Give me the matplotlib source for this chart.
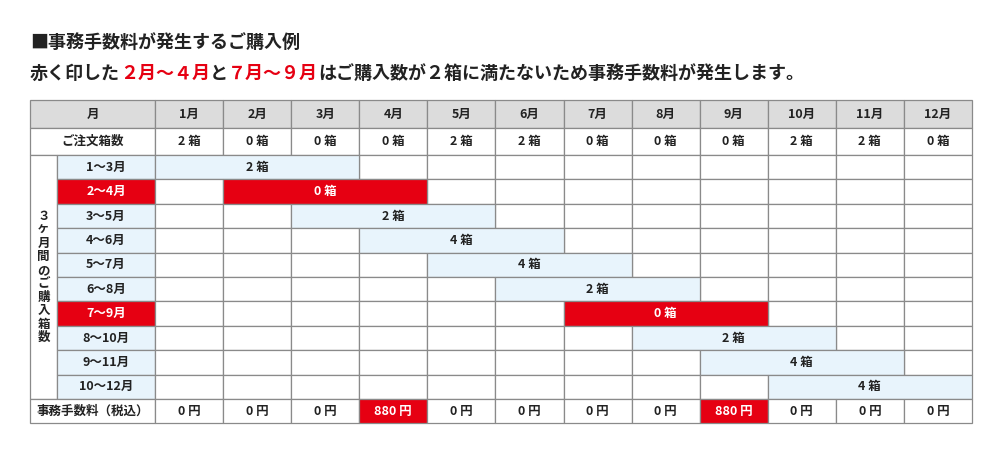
import matplotlib
matplotlib.use('Agg')
import matplotlib.pyplot as plt
from matplotlib.patches import Rectangle

plt.rcParams['font.family'] = 'Noto Sans CJK JP'

# data
months = ["1月", "2月", "3月", "4月", "5月", "6月", "7月", "8月", "9月", "10月", "11月", "12月"]
orders = [2, 0, 0, 0, 2, 2, 0, 0, 0, 2, 2, 0]
range_labels = ["1〜3月", "2〜4月", "3〜5月", "4〜6月", "5〜7月", "6〜8月",
                "7〜9月", "8〜10月", "9〜11月", "10〜12月"]
range_sums = [2, 0, 2, 4, 4, 2, 0, 2, 4, 4]
fees = [0, 0, 0, 880, 0, 0, 0, 0, 880, 0, 0, 0]

GRAY = '#dcdcdc'
BLUE = '#e8f4fc'
RED = '#e60012'
EDGE = '#8a8a8a'

fig = plt.figure(figsize=(10, 4.51), dpi=100)
ax = fig.add_axes([0, 0, 1, 1])
ax.set_xlim(0, 1000)
ax.set_ylim(451, 0)
ax.axis('off')

x0, xsub, xm = 30, 57, 155
colw = (972 - xm) / 12
xs = [xm + i * colw for i in range(13)]
row_h = (399 - 155) / 10


def cell(x, y, w, h, fc, text='', tc='#222', fs=9):
    ax.add_patch(Rectangle((x, y), w, h, facecolor=fc, edgecolor=EDGE, lw=0.9))
    if text:
        ax.text(x + w / 2, y + h / 2, text, ha='center', va='center',
                fontsize=fs, color=tc, fontweight='bold')


# header
cell(x0, 100, xm - x0, 28, GRAY, "月")
for i, m in enumerate(months):
    cell(xs[i], 100, colw, 28, GRAY, m)
# orders
cell(x0, 128, xm - x0, 27, 'white', "ご注文箱数")
for i, n in enumerate(orders):
    cell(xs[i], 128, colw, 27, 'white', f"{n} 箱")

# 3-month rows
cell(x0, 155, xsub - x0, row_h * 10, 'white')
ax.text((x0 + xsub) / 2, 155 + row_h * 5, "\n".join("３ヶ月間のご購入箱数"),
        ha='center', va='center', fontsize=9, fontweight='bold', color='#222',
        linespacing=1.05)
for r, (lab, s) in enumerate(zip(range_labels, range_sums)):
    y = 155 + r * row_h
    hot = s == 0
    cell(xsub, y, xm - xsub, row_h, RED if hot else BLUE, lab,
         tc='white' if hot else '#222')
    for i in range(12):
        if not (r <= i < r + 3):
            cell(xs[i], y, colw, row_h, 'white')
    w = colw * min(3, 12 - r)
    cell(xs[r], y, w, row_h, RED if hot else BLUE, f"{s} 箱",
         tc='white' if hot else '#222')

# fee row
cell(x0, 399, xm - x0, 24, 'white', "事務手数料（税込）")
for i, f in enumerate(fees):
    hot = f > 0
    cell(xs[i], 399, colw, 24, RED if hot else 'white', f"{f} 円",
         tc='white' if hot else '#222')

# titles
ax.text(30, 42, "■事務手数料が発生するご購入例", fontsize=13, fontweight='bold',
        va='center', color='#222')
parts = [("赤く印した", '#222'), ("２月〜４月", RED), ("と", '#222'),
         ("７月〜９月", RED), ("はご購入数が２箱に満たないため事務手数料が発生します。", '#222')]
fig.canvas.draw()
xpos = 30
for txt, c in parts:
    t = ax.text(xpos, 73, txt, fontsize=13, fontweight='bold', va='center', color=c)
    bb = t.get_window_extent()
    xpos += bb.width

fig.savefig('out.png', dpi=100)
